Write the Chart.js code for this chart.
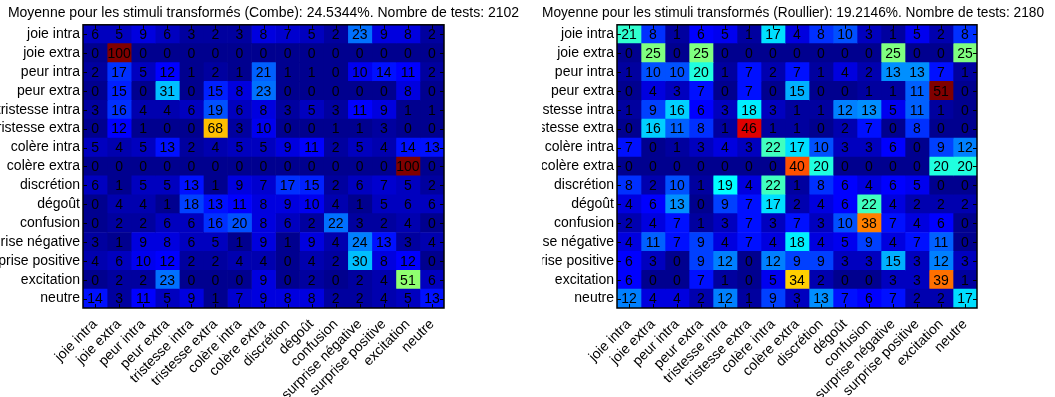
<!DOCTYPE html>
<html>
<head>
<meta charset="utf-8">
<script src="https://cdn.jsdelivr.net/npm/chart.js@4/dist/chart.umd.min.js"></script>
<style>
  body { margin: 0; background: #fff; width: 1055px; height: 397px; position: relative; overflow: hidden; }
  .box { position: absolute; top: 0; height: 397px; }
  #combeBox { left: 0; width: 527px; }
  #roullierBox { left: 542px; width: 502px; }
</style>
</head>
<body>
<div class="box" id="combeBox"><canvas id="combe"></canvas></div>
<div class="box" id="roullierBox"><canvas id="roullier"></canvas></div>
<script>
// categories (same order for rows = stimulus and columns = answer)
const EMOTIONS = [
  "joie intra", "joie extra", "peur intra", "peur extra",
  "tristesse intra", "tristesse extra", "colère intra", "colère extra",
  "discrétion", "dégoût", "confusion", "surprise négative",
  "surprise positive", "excitation", "neutre",
];

const COMBE_TITLE = "Moyenne pour les stimuli transformés (Combe): 24.5344%. Nombre de tests: 2102";
const ROULLIER_TITLE = "Moyenne pour les stimuli transformés (Roullier): 19.2146%. Nombre de tests: 2180";

// percentages, one row per stimulus
const combeValues = [
  [6, 5, 9, 6, 3, 2, 3, 8, 7, 5, 2, 23, 9, 8, 2],
  [0, 100, 0, 0, 0, 0, 0, 0, 0, 0, 0, 0, 0, 0, 0],
  [2, 17, 5, 12, 1, 2, 1, 21, 1, 1, 0, 10, 14, 11, 2],
  [0, 15, 0, 31, 0, 15, 8, 23, 0, 0, 0, 0, 0, 8, 0],
  [3, 16, 4, 4, 6, 19, 6, 8, 3, 5, 3, 11, 9, 1, 1],
  [0, 12, 1, 0, 0, 68, 3, 10, 0, 0, 1, 1, 3, 0, 0],
  [5, 4, 5, 13, 2, 4, 5, 5, 9, 11, 2, 5, 4, 14, 13],
  [0, 0, 0, 0, 0, 0, 0, 0, 0, 0, 0, 0, 0, 100, 0],
  [6, 1, 5, 5, 13, 1, 9, 7, 17, 15, 2, 6, 7, 5, 2],
  [0, 4, 4, 1, 18, 13, 11, 8, 9, 10, 4, 1, 5, 6, 6],
  [0, 2, 2, 6, 6, 16, 20, 8, 6, 2, 22, 3, 2, 4, 0],
  [3, 1, 9, 8, 6, 5, 1, 9, 1, 9, 4, 24, 13, 3, 4],
  [4, 6, 10, 12, 2, 2, 4, 4, 0, 4, 2, 30, 8, 12, 0],
  [0, 2, 2, 23, 0, 0, 0, 9, 0, 2, 0, 2, 4, 51, 6],
  [14, 3, 11, 5, 9, 1, 7, 9, 8, 8, 2, 2, 4, 5, 13],
];

const roullierValues = [
  [21, 8, 1, 6, 5, 1, 17, 4, 8, 10, 3, 1, 5, 2, 8],
  [0, 25, 0, 25, 0, 0, 0, 0, 0, 0, 0, 25, 0, 0, 25],
  [1, 10, 10, 20, 1, 7, 2, 7, 1, 4, 2, 13, 13, 7, 1],
  [0, 4, 3, 7, 0, 7, 0, 15, 0, 0, 1, 1, 11, 51, 0],
  [1, 9, 16, 6, 3, 18, 3, 1, 1, 12, 13, 5, 11, 1, 0],
  [0, 16, 11, 8, 1, 46, 1, 1, 0, 2, 7, 0, 8, 0, 0],
  [7, 0, 1, 3, 4, 3, 22, 17, 10, 3, 3, 6, 0, 9, 12],
  [0, 0, 0, 0, 0, 0, 0, 40, 20, 0, 0, 0, 0, 20, 20],
  [8, 2, 10, 1, 19, 4, 22, 1, 8, 6, 4, 6, 5, 0, 0],
  [4, 6, 13, 0, 9, 7, 17, 2, 4, 6, 22, 4, 2, 2, 2],
  [2, 4, 7, 1, 3, 7, 3, 7, 3, 10, 38, 7, 4, 6, 0],
  [4, 11, 7, 9, 4, 7, 4, 18, 4, 5, 9, 4, 7, 11, 0],
  [6, 3, 0, 9, 12, 0, 12, 9, 9, 3, 3, 15, 3, 12, 3],
  [6, 0, 0, 7, 1, 0, 5, 34, 2, 0, 0, 3, 3, 39, 1],
  [12, 4, 4, 2, 12, 1, 9, 3, 13, 7, 6, 7, 2, 2, 17],
];

Chart.defaults.font.family = '"Liberation Sans", Arial, sans-serif';
Chart.defaults.font.size = 14;
Chart.defaults.color = "#000";

// matlab jet(64), scaled between 0 and the max of the matrix
function jet(v, max) {
  const i = Math.min(64, Math.floor((v / max) * 64) + 1);
  const t = i / 64;
  const c = (a) => Math.round(255 * Math.max(0, Math.min(1, a)));
  const r = c(Math.min(4 * t - 1.5, -4 * t + 4.5));
  const g = c(Math.min(4 * t - 0.5, -4 * t + 3.5));
  const b = c(Math.min(4 * t + 0.5, -4 * t + 2.5));
  return `rgb(${r},${g},${b})`;
}

// numbers in cells + box and inner ticks
const cellPlugin = {
  id: "cells",
  afterDatasetsDraw(chart, args, opts) {
    const { ctx, chartArea: a } = chart;
    const xs = chart.scales.x;
    const ys = chart.scales.y;
    const m = opts.matrix;
    ctx.save();
    ctx.font = '14px "Liberation Sans", Arial, sans-serif';
    ctx.fillStyle = "#000";
    ctx.textAlign = "center";
    ctx.textBaseline = "middle";
    m.forEach((row, r) => {
      row.forEach((v, c) => {
        ctx.fillText(String(v), xs.getPixelForValue(c + 0.5), ys.getPixelForValue(r) + 1);
      });
    });
    ctx.strokeStyle = "#000";
    ctx.lineWidth = 1;
    ctx.beginPath();
    EMOTIONS.forEach((_, i) => {
      const px = Math.round(xs.getPixelForValue(i + 0.5)) + 0.5;
      const py = Math.round(ys.getPixelForValue(i)) + 0.5;
      ctx.moveTo(px, a.bottom); ctx.lineTo(px, a.bottom - 4);
      ctx.moveTo(px, a.top); ctx.lineTo(px, a.top + 4);
      ctx.moveTo(a.left, py); ctx.lineTo(a.left + 4, py);
      ctx.moveTo(a.right, py); ctx.lineTo(a.right - 4, py);
    });
    ctx.stroke();
    ctx.lineWidth = 1.5;
    ctx.strokeRect(a.left, a.top, a.right - a.left, a.bottom - a.top);
    ctx.restore();
  },
};

function heatmap(id, title, matrix, leftW, rightW) {
  const max = Math.max(...matrix.flat());
  new Chart(document.getElementById(id), {
    type: "bar",
    data: {
      labels: EMOTIONS,
      datasets: EMOTIONS.map((_, col) => ({
        label: EMOTIONS[col],
        // each cell spans one column unit, colour comes from the matrix
        data: matrix.map(() => 1),
        backgroundColor: (c) => jet(matrix[c.dataIndex][col], max),
        borderWidth: 0,
        barPercentage: 1,
        categoryPercentage: 1,
      })),
    },
    options: {
      indexAxis: "y",
      responsive: true,
      maintainAspectRatio: false,
      animation: false,
      layout: { padding: 0 },
      scales: {
        x: {
          type: "linear",
          stacked: true,
          min: 0,
          max: 15,
          grid: { display: false },
          border: { display: false },
          afterBuildTicks: (s) => {
            s.ticks = EMOTIONS.map((_, i) => ({ value: i + 0.5 }));
          },
          afterFit: (s) => { s.height = 89; },
          ticks: {
            autoSkip: false,
            minRotation: 45,
            maxRotation: 45,
            padding: 0,
            callback: (v, i) => EMOTIONS[i],
          },
        },
        y: {
          type: "category",
          stacked: true,
          grid: { display: false, drawTicks: false },
          border: { display: false },
          afterFit: (s) => { s.width = leftW; },
          ticks: { padding: 3, autoSkip: false },
        },
        yRight: {
          type: "linear",
          position: "right",
          grid: { display: false, drawTicks: false },
          border: { display: false },
          ticks: { display: false },
          afterFit: (s) => { s.width = rightW; },
        },
      },
      plugins: {
        legend: { display: false },
        tooltip: { enabled: false },
        title: {
          display: true,
          text: title,
          font: { size: 14, weight: "normal" },
          color: "#000",
          padding: { top: 5, bottom: 3 },
        },
        cells: { matrix },
      },
    },
    plugins: [cellPlugin],
  });
}

heatmap("combe", COMBE_TITLE, combeValues, 83, 83);
heatmap("roullier", ROULLIER_TITLE, roullierValues, 75, 67);
</script>
</body>
</html>
